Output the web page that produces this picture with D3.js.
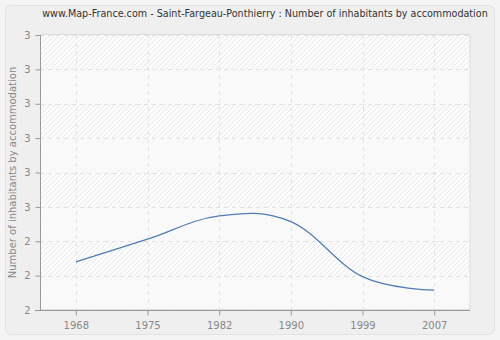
<!DOCTYPE html>
<html>
<head>
<meta charset="utf-8">
<script src="https://cdn.jsdelivr.net/npm/d3@7"></script>
<style>
  body { margin: 0; background: #efefef; }
  svg { display: block; }
</style>
</head>
<body>
<svg></svg>
<script>
var years = ['1968', '1975', '1982', '1990', '1999', '2007'];
var inhabitants = [2.34, 2.406, 2.474, 2.457, 2.297, 2.258];
var yTicks = [2.2, 2.3, 2.4, 2.5, 2.6, 2.7, 2.8, 2.9, 3.0];

var W = 500, H = 340;
var pLeft = 40, pRight = 470, pTop = 35, pBottom = 310;
var font = '"DejaVu Sans", Verdana, sans-serif';

var svg = d3.select('svg')
            .attr('width', W)
            .attr('height', H)
            .style('font-family', font);

// outer panel
svg.append('rect')
   .attr('x', 0).attr('y', 0)
   .attr('width', W).attr('height', H)
   .attr('fill', '#f4f4f4');
svg.append('rect')
   .attr('x', 5.5).attr('y', 5.5)
   .attr('width', 489).attr('height', 329)
   .attr('rx', 6)
   .attr('fill', '#efefef')
   .attr('stroke', '#e2e2e2');

// hatch pattern
var defs = svg.append('defs');
var pat = defs.append('pattern')
   .attr('id', 'hatch')
   .attr('patternUnits', 'userSpaceOnUse')
   .attr('width', 5).attr('height', 5);
pat.append('rect').attr('width', 5).attr('height', 5).attr('fill', '#fcfcfc');
pat.append('path')
   .attr('d', 'M-1,6 L6,-1 M-1,1 L1,-1 M4,6 L6,4')
   .attr('stroke', '#e8e8e8')
   .attr('stroke-width', 1);

var x = d3.scalePoint().domain(years).range([pLeft, pRight]).padding(0.5);
var y = d3.scaleLinear().domain([2.2, 3.0]).range([pBottom, pTop]);

svg.append('rect')
   .attr('x', pLeft).attr('y', pTop)
   .attr('width', pRight - pLeft).attr('height', pBottom - pTop)
   .attr('fill', 'url(#hatch)');

// lighter bands between every other pair of gridlines
svg.selectAll('.band')
   .data(yTicks.slice(0, -1).filter((d, i) => i % 2 == 0))
   .enter()
   .append('rect')
   .attr('class', 'band')
   .attr('x', pLeft)
   .attr('width', pRight - pLeft)
   .attr('y', d => y(d + 0.1))
   .attr('height', d => y(d) - y(d + 0.1))
   .attr('fill', '#fafafa')
   .attr('opacity', 0.75);

// plot frame (light)
svg.append('rect')
   .attr('x', pLeft + 0.5).attr('y', pTop - 0.5)
   .attr('width', pRight - pLeft - 0.5).attr('height', pBottom - pTop)
   .attr('fill', 'none')
   .attr('stroke', '#dddddd');

// grid
svg.selectAll('.hgrid')
   .data(yTicks)
   .enter()
   .append('line')
   .attr('x1', pLeft).attr('x2', pRight)
   .attr('y1', d => Math.round(y(d)) + 0.5)
   .attr('y2', d => Math.round(y(d)) + 0.5)
   .attr('stroke', '#e2e2e2')
   .attr('stroke-dasharray', '4,4');
svg.selectAll('.vgrid')
   .data(years)
   .enter()
   .append('line')
   .attr('x1', d => Math.round(x(d)) + 0.5)
   .attr('x2', d => Math.round(x(d)) + 0.5)
   .attr('y1', pTop).attr('y2', pBottom)
   .attr('stroke', '#e2e2e2')
   .attr('stroke-dasharray', '4,4');

// axes
var xAxis = d3.axisBottom(x).tickSize(5).tickPadding(6);
var yAxis = d3.axisLeft(y).tickValues(yTicks).tickSize(5).tickPadding(5)
              .tickFormat(d => Math.round(d));

var gx = svg.append('g')
   .attr('transform', 'translate(0,' + (pBottom + 0.5) + ')')
   .call(xAxis);
gx.select('.domain').attr('d', 'M' + (pLeft - 5) + ',0H' + pRight);

var gy = svg.append('g')
   .attr('transform', 'translate(' + (pLeft + 0.5) + ',0)')
   .call(yAxis);
gy.select('.domain').attr('d', 'M0,' + pTop + 'V' + pBottom);

svg.selectAll('.domain, .tick line').attr('stroke', '#999999');
svg.selectAll('.tick text')
   .attr('fill', '#888888')
   .attr('font-size', '10px')
   .attr('font-family', font);

// line
var line = d3.line()
   .x((d, i) => x(years[i]))
   .y(d => y(d))
   .curve(d3.curveCardinal.tension(-0.1));

svg.append('path')
   .datum(inhabitants)
   .attr('d', line)
   .attr('fill', 'none')
   .attr('stroke', '#4f7db3')
   .attr('stroke-width', 1.2);

// title
svg.append('text')
   .attr('x', 265).attr('y', 17)
   .attr('text-anchor', 'middle')
   .attr('font-size', '9.6px')
   .attr('fill', '#333333')
   .text('www.Map-France.com - Saint-Fargeau-Ponthierry : Number of inhabitants by accommodation');

// y axis title
svg.append('text')
   .attr('transform', 'translate(16,' + ((pTop + pBottom) / 2) + ') rotate(-90)')
   .attr('text-anchor', 'middle')
   .attr('font-size', '10px')
   .attr('fill', '#888888')
   .text('Number of inhabitants by accommodation');
</script>
</body>
</html>
